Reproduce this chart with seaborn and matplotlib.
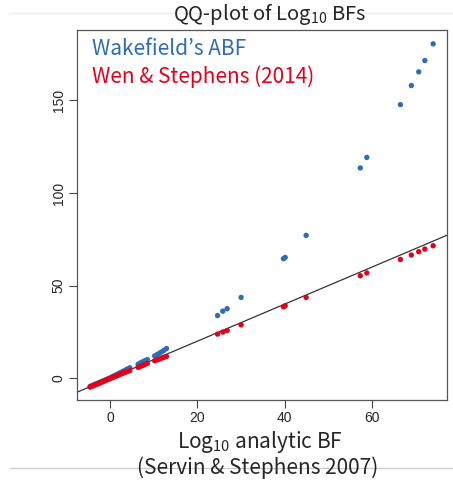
import matplotlib
matplotlib.use("Agg")
import matplotlib.pyplot as plt
import seaborn as sns
import pandas as pd

# analytic log10 BF (x) and approximations (y)
analytic = [-4.6, -4.3, -4.0, -3.7, -3.4, -3.1, -2.8, -2.5, -2.2, -1.9, -1.6,
            -1.3, -1.0, -0.7, -0.4, -0.1, 0.2, 0.5, 0.8, 1.1, 1.4, 1.7, 2.0,
            2.3, 2.6, 2.9, 3.2, 3.6, 4.0, 4.5, 6.4, 6.9, 7.4, 7.9, 8.5, 10.2,
            10.8, 11.3, 11.8, 12.3, 12.9, 24.6, 25.8, 26.8, 30.0, 39.7, 40.1,
            44.9, 57.3, 58.8, 66.5, 69.0, 70.7, 72.1, 74.0]
wakefield = [-4.5, -4.2, -3.9, -3.6, -3.3, -3.0, -2.7, -2.4, -2.1, -1.8, -1.5,
             -1.2, -0.9, -0.6, -0.3, 0.0, 0.4, 0.7, 1.1, 1.4, 1.8, 2.1, 2.5,
             2.9, 3.2, 3.6, 4.0, 4.5, 5.0, 5.6, 7.5, 8.2, 8.8, 9.4, 10.0, 12.0,
             12.8, 13.5, 14.2, 15.0, 16.0, 33.8, 36.2, 37.5, 43.6, 64.5, 65.2,
             77.1, 113.5, 119.2, 147.7, 158.0, 165.4, 171.5, 180.5]
wen_stephens = [-4.8, -4.5, -4.2, -3.9, -3.6, -3.3, -3.0, -2.7, -2.4, -2.1, -1.8,
                -1.5, -1.2, -0.9, -0.6, -0.3, 0.0, 0.3, 0.6, 0.9, 1.2, 1.5, 1.8,
                2.1, 2.4, 2.7, 3.0, 3.3, 3.7, 4.1, 5.8, 6.3, 6.8, 7.3, 7.9, 9.4,
                9.9, 10.3, 10.8, 11.2, 11.7, 23.8, 24.9, 25.7, 28.8, 38.5, 39.1,
                43.6, 55.3, 56.8, 64.1, 66.5, 68.3, 69.7, 71.5]
x_ticks = [0, 20, 40, 60]
y_ticks = [0, 50, 100, 150]

BLUE = "#2e6db4"
RED = "#e3001b"
JP = ["Noto Sans CJK JP", "DejaVu Sans"]

df = pd.DataFrame({"analytic": analytic, "wakefield": wakefield,
                   "wen": wen_stephens})

sns.set_style("white")
plt.rcParams["font.family"] = ["Liberation Sans", "DejaVu Sans"]
plt.rcParams["mathtext.fontset"] = "custom"
plt.rcParams["mathtext.rm"] = "Noto Sans CJK JP"
plt.rcParams["mathtext.it"] = "Noto Sans CJK JP"

fig = plt.figure(figsize=(4.53, 4.87), dpi=100)
ax = fig.add_axes([0.170, 0.1786, 0.817, 0.7598])

sns.scatterplot(data=df, x="analytic", y="wakefield", ax=ax, color=BLUE,
                s=15, edgecolor="none", zorder=3)
sns.scatterplot(data=df, x="analytic", y="wen", ax=ax, color=RED,
                s=15, edgecolor="none", zorder=4)
ax.axline((0, 0), slope=1, color="#333333", lw=0.9, zorder=2)

ax.set_xlim(-7.6, 77.2)
ax.set_ylim(-11.8, 188.0)
ax.set_xticks(x_ticks)
ax.set_yticks(y_ticks)
ax.set_xlabel("")
ax.set_ylabel("")
ax.tick_params(axis="both", direction="out", length=5.5, width=0.8,
               color="#444444", labelsize=10, bottom=True, left=True,
               pad=2.5)
for lab in ax.get_yticklabels():
    lab.set_rotation(90)
    lab.set_va("center")
for sp in ax.spines.values():
    sp.set_color("#555555")
    sp.set_linewidth(0.9)

fig.text(92 / 453, 1 - 55 / 487, "Wakefield’s ABF", color=BLUE,
         fontsize=15, family=JP, va="baseline", ha="left")
fig.text(92 / 453, 1 - 83 / 487, "Wen & Stephens (2014)", color=RED,
         fontsize=15, family=JP, va="baseline", ha="left")

fig.text(270 / 453, 1 - 20 / 487, "QQ-plot of Log$_{10}$ BFs", fontsize=14.5,
         family=JP, ha="center", va="baseline")
fig.text(260 / 453, 1 - 448 / 487, "Log$_{10}$ analytic BF", fontsize=15,
         family=JP, ha="center", va="baseline")
fig.text(258 / 453, 1 - 474 / 487, "(Servin & Stephens 2007)", fontsize=15,
         family=JP, ha="center", va="baseline")

fig.add_artist(plt.Line2D([0.022, 1.0], [1 - 467.5 / 487] * 2,
                          color="#cccccc", lw=1.0,
                          transform=fig.transFigure, zorder=0))
fig.add_artist(plt.Line2D([0.02, 1.0], [1 - 13 / 487] * 2,
                          color="#eeeeee", lw=1.0,
                          transform=fig.transFigure, zorder=0))

fig.savefig("out.png", dpi=100)
